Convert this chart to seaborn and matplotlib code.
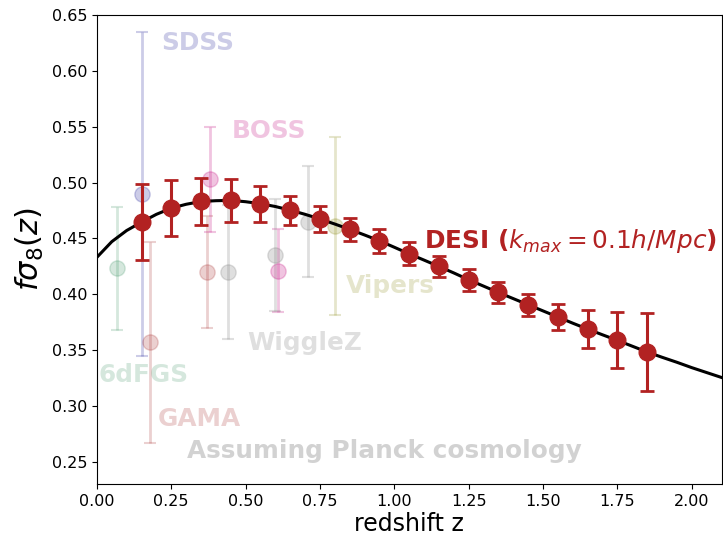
import numpy as np
import pandas as pd
import matplotlib
matplotlib.use("Agg")
import matplotlib.pyplot as plt
import seaborn as sns

# Planck theory curve
curve_z = [0.0, 0.05, 0.1, 0.15, 0.2, 0.25, 0.3, 0.35, 0.4, 0.45, 0.5, 0.55,
           0.6, 0.65, 0.7, 0.75, 0.8, 0.85, 0.9, 0.95, 1.0, 1.05, 1.1, 1.15,
           1.2, 1.25, 1.3, 1.35, 1.4, 1.45, 1.5, 1.55, 1.6, 1.65, 1.7, 1.75,
           1.8, 1.85, 1.9, 1.95, 2.0, 2.05, 2.1]
curve_fs8 = [0.433, 0.447, 0.457, 0.4645, 0.4715, 0.477, 0.4805, 0.483, 0.4837,
             0.484, 0.4828, 0.481, 0.4785, 0.4752, 0.4715, 0.4673, 0.4628, 0.458,
             0.453, 0.4478, 0.442, 0.4361, 0.4305, 0.4248, 0.419, 0.4129, 0.4072,
             0.4015, 0.396, 0.3905, 0.385, 0.3795, 0.374, 0.3687, 0.3636, 0.3586,
             0.3534, 0.3482, 0.3435, 0.339, 0.3342, 0.3298, 0.3254]

# DESI forecast
desi_z = [0.15, 0.25, 0.35, 0.45, 0.55, 0.65, 0.75, 0.85, 0.95, 1.05, 1.15,
          1.25, 1.35, 1.45, 1.55, 1.65, 1.75, 1.85]
desi_fs8 = [0.4645, 0.477, 0.483, 0.484, 0.481, 0.4752, 0.4673, 0.458, 0.4478,
            0.4361, 0.4248, 0.4129, 0.4015, 0.3905, 0.3795, 0.3687, 0.3586, 0.3482]
desi_err = [0.034, 0.025, 0.021, 0.019, 0.016, 0.013, 0.0115, 0.0105, 0.0105,
            0.0103, 0.0097, 0.0097, 0.0097, 0.0099, 0.012, 0.017, 0.025, 0.035]

# existing measurements
sixdf_z, sixdf_fs8, sixdf_err = [0.067], [0.423], [0.055]
sdss_z, sdss_fs8, sdss_err = [0.15], [0.49], [0.145]
gama_z, gama_fs8, gama_err = [0.18, 0.37], [0.357, 0.42], [0.09, 0.05]
boss_z, boss_fs8, boss_err = [0.38, 0.61], [0.503, 0.421], [0.047, 0.037]
wigglez_z, wigglez_fs8, wigglez_err = [0.44, 0.60, 0.71], [0.42, 0.435, 0.465], [0.06, 0.05, 0.05]
vipers_z, vipers_fs8, vipers_err = [0.80], [0.461], [0.08]

surveys = [
    ("6dFGS", sixdf_z, sixdf_fs8, sixdf_err, "seagreen", 0.2),
    ("SDSS", sdss_z, sdss_fs8, sdss_err, "darkblue", 0.2),
    ("GAMA", gama_z, gama_fs8, gama_err, "brown", 0.22),
    ("BOSS", boss_z, boss_fs8, boss_err, "mediumvioletred", 0.25),
    ("WiggleZ", wigglez_z, wigglez_fs8, wigglez_err, "gray", 0.25),
    ("Vipers", vipers_z, vipers_fs8, vipers_err, "olive", 0.2),
]

plt.rcParams["font.family"] = "DejaVu Sans"
fig, ax = plt.subplots(figsize=(7.23, 5.36), dpi=100)

for name, z, f, e, c, a in surveys:
    ax.errorbar(z, f, yerr=e, fmt="o", color=c, alpha=a, markersize=11,
                capsize=4.5, elinewidth=2, capthick=1.5, zorder=1)

sns.lineplot(x=curve_z, y=curve_fs8, color="black", linewidth=2.2, ax=ax, zorder=2)

ax.errorbar(desi_z, desi_fs8, yerr=desi_err, fmt="o", color="firebrick",
            markersize=12, capsize=5, elinewidth=2.2, capthick=2, zorder=3)

labels = [
    ("SDSS", 0.215, 0.619, "darkblue", 0.2),
    ("BOSS", 0.454, 0.540, "mediumvioletred", 0.25),
    ("Vipers", 0.836, 0.4014, "olive", 0.2),
    ("WiggleZ", 0.506, 0.350, "gray", 0.25),
    ("6dFGS", 0.004, 0.321, "seagreen", 0.2),
    ("GAMA", 0.2036, 0.2815, "brown", 0.22),
    ("Assuming Planck cosmology", 0.303, 0.2535, "gray", 0.35),
]
for t, x, y, c, a in labels:
    ax.text(x, y, t, color=c, alpha=a, fontsize=17.8, fontweight="bold")

ax.text(1.1, 0.4417, r"DESI ($k_{max} = 0.1h/Mpc$)", color="firebrick",
        fontsize=17.8, fontweight="bold")

ax.set_xlim(0, 2.1)
ax.set_ylim(0.23, 0.65)
ax.set_xticks(np.arange(0, 2.01, 0.25))
ax.set_yticks(np.arange(0.25, 0.651, 0.05))
ax.tick_params(labelsize=11.5)
ax.set_xlabel("redshift z", fontsize=17, labelpad=2)
ax.set_ylabel(r"$f\sigma_8(z)$", fontsize=22)

fig.subplots_adjust(left=0.134, right=0.998, top=0.972, bottom=0.097)
fig.savefig("out.png", dpi=100)
